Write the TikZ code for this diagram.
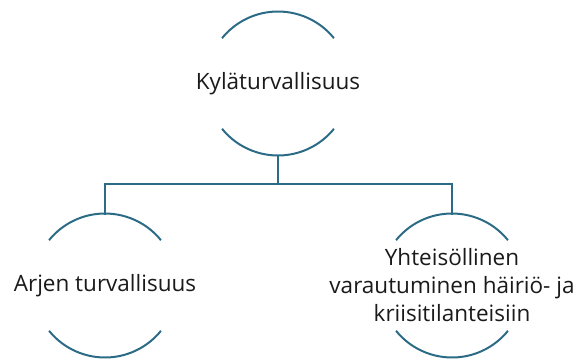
\documentclass[tikz,border=0pt]{standalone}
\usepackage{fontspec}
\setmainfont{Open Sans}
\definecolor{arccol}{HTML}{2C6B86}
\definecolor{txtcol}{HTML}{1A1A1A}
\begin{document}
\begin{tikzpicture}[x=1pt,y=1pt,
  arcline/.style={draw=arccol,line width=2pt},
  conn/.style={draw=arccol,line width=2pt},
  label/.style={text=txtcol,font=\fontsize{22.5}{28}\selectfont,align=center,inner sep=0pt}]
\useasboundingbox (0,0) rectangle (580,360);
% centres
\coordinate (c1) at (278,276.5);
\coordinate (c2) at (105,74.5);
\coordinate (c3) at (452,74.5);
% arcs
\foreach \c in {c1,c2,c3}{
  \draw[arcline] ([shift={(39:72)}]\c) arc[start angle=39,end angle=141,radius=72];
  \draw[arcline] ([shift={(219:72)}]\c) arc[start angle=219,end angle=321,radius=72];
}
% texts
\node[label] (t1) at (c1) {Kyläturvallisuus};
\node[label] (t2) at (c2) {Arjen turvallisuus};
\node[label] (t3) at (c3) {Yhteisöllinen\\varautuminen häiriö- ja\\kriisitilanteisiin};
% connector points
\coordinate (b1) at ([yshift=-72]c1);
\coordinate (a2) at ([yshift=72]c2);
\coordinate (a3) at ([yshift=72]c3);
\coordinate (bus) at (278,176);
\draw[conn] (b1) -- (bus);
\draw[conn,line cap=rect] (a2) |- (bus) -| (a3);
\end{tikzpicture}
\end{document}
